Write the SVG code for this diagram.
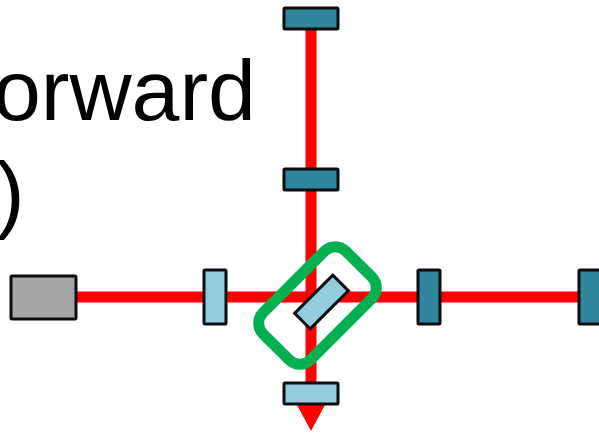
<svg xmlns="http://www.w3.org/2000/svg" width="599" height="437" viewBox="0 0 599 437">
<style>
.t{font-family:"Liberation Sans",Arial,sans-serif;font-size:86px;fill:#000}
.beam{stroke:#f00;stroke-width:11;fill:none}
.o{stroke:#0d0d0d;stroke-width:3}
.light{fill:#93cddd}
.dark{fill:#31859c}
</style>
<rect width="599" height="437" fill="#fff"/>
<g id="text">
<text class="t" x="-7" y="120">orward</text>
<text class="t" x="-4" y="222">)</text>
</g>
<g id="connectors">
<line class="beam" x1="311" y1="18" x2="311" y2="392"/>
<line class="beam" x1="70" y1="297" x2="590" y2="297"/>
<polygon points="297,405 325,405 311,431" fill="#f00"/>
</g>
<g id="laser"><rect class="o" x="11" y="276" width="65" height="43" rx="1" fill="#a6a6a6"/></g>
<g id="input-mirror"><rect class="o light" x="204" y="270" width="22" height="54" rx="1"/></g>
<g id="x-mirror-1"><rect class="o dark" x="418" y="270" width="22" height="54" rx="1"/></g>
<g id="x-mirror-2"><rect class="o dark" x="579" y="270" width="22" height="54" rx="1"/></g>
<g id="y-mirror-1"><rect class="o dark" x="284" y="169" width="54" height="21" rx="1"/></g>
<g id="y-mirror-2"><rect class="o dark" x="284" y="8" width="54" height="21" rx="1"/></g>
<g id="output-mirror"><rect class="o light" x="284" y="383" width="54" height="21" rx="1"/></g>
<g id="beam-splitter"><rect class="o light" x="-27" y="-11" width="54" height="22" transform="translate(321.5 302) rotate(-45)"/></g>
<g id="highlight"><rect x="-58.5" y="-33.5" width="117" height="67" rx="15" fill="none" stroke="#00b050" stroke-width="11" transform="translate(317.5 305.5) rotate(-45)"/></g>
</svg>
